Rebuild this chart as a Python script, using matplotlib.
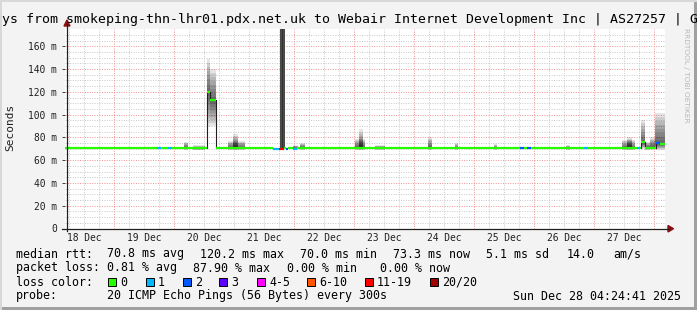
import matplotlib
matplotlib.use('Agg')
import matplotlib.pyplot as plt
from matplotlib.patches import Rectangle, Polygon
from matplotlib.lines import Line2D

W, H = 697, 310
MONO = 'DejaVu Sans Mono'

title = 'ys from smokeping-thn-lhr01.pdx.net.uk to Webair Internet Development Inc | AS27257 | G'
day_labels = ['18 Dec', '19 Dec', '20 Dec', '21 Dec', '22 Dec',
              '23 Dec', '24 Dec', '25 Dec', '26 Dec', '27 Dec']
y_ticks = [0, 20, 40, 60, 80, 100, 120, 140, 160]
y_tick_labels = ['0'] + ['%d m' % v for v in y_ticks[1:]]

# time axis: hours since Dec 18 04:24, 10 days shown
start_hour = 4.4
span = 240
y_max = 175.6

loss_labels = ['0', '1', '2', '3', '4-5', '6-10', '11-19', '20/20']
loss_colors = ['#26ff00', '#00b8ff', '#0059ff', '#5e00ff',
               '#ff00ff', '#ff5500', '#ff0000', '#a10000']

# median rtt (ms) as steps: start hour, value, loss bin
med_start = [0, 36.7, 38.3, 41.1, 42.7, 56.7, 57.9, 60.1, 83.0, 85.6, 87.5,
             88.3, 89.2, 91.2, 92.8, 181.9, 183.5, 184.7, 186.3, 207.5,
             209.1, 228.7, 229.9, 230.3, 231.7, 236.3, 237.9]
med_val = [70.5, 70.3, 70.5, 70.3, 70.5, 120.2, 112.5, 70.5, 70.2, 70.2, 70.5,
           70.2, 70.5, 70.2, 70.5, 70.3, 70.5, 70.3, 70.5, 70.3,
           70.5, 70.3, 70.5, 75.6, 70.5, 74.7, 73.8]
med_loss = [0, 1, 0, 1, 0, 0, 0, 0, 1, 6, 0,
            2, 0, 1, 0, 2, 0, 2, 0, 1,
            0, 1, 0, 0, 0, 2, 0]

# smoke (ping spread): start hour, end hour, low, middle, high (ms)
smoke_t0 = [47.5, 51.1, 56.7, 57.9, 65.1, 67.1, 91.1, 93.9, 115.9, 117.5,
            123.9, 145.1, 155.9, 171.5, 200.3, 222.7, 224.7, 230.3, 231.9,
            233.9, 235.9]
smoke_t1 = [48.9, 55.9, 57.9, 60.1, 71.9, 69.1, 93.1, 95.9, 119.9, 119.1,
            127.9, 146.7, 157.1, 172.7, 201.9, 227.9, 226.7, 231.7, 233.9,
            235.9, 240.0]
smoke_lo = [69, 69, 89, 90, 69, 69, 69, 69, 69, 69,
            69, 69, 69, 69, 69, 69, 69, 70, 69,
            69, 69]
smoke_mid = [71, 70, 120, 112, 71, 72, 70.5, 71, 71, 72,
             70.5, 71, 70.5, 70.5, 70.5, 71, 72, 75, 71,
             72, 74]
smoke_hi = [76, 73, 149, 140, 77, 83, 73, 75, 79, 87,
            73, 80, 75, 74, 73, 78, 80, 95, 76,
            80, 101]

# full-height outage smear on 21 Dec
dark_t0, dark_t1 = 85.9, 87.7


def fx(px):
    return px / W


def fy(py):
    return 1 - py / H


fig = plt.figure(figsize=(W / 100, H / 100), dpi=100)
fig.patch.set_facecolor('#f3f3f3')

ax = fig.add_axes([fx(65.3), fy(228.5), 600 / W, 200 / H])
ax.set_facecolor('white')
ax.set_xlim(0, span)
ax.set_ylim(0, y_max)
for s in ax.spines.values():
    s.set_visible(False)

# grid
dot = (0, (1, 1.5))
for v in range(5, int(y_max), 5):
    if v % 20:
        ax.axhline(v, color='#c8c8c8', lw=0.7, ls=dot, zorder=0)
for v in y_ticks[1:]:
    ax.axhline(v, color='#f09090', lw=0.7, ls=dot, zorder=0)
first_midnight = 24 - start_hour
h = (first_midnight % 6)
while h < span:
    if abs((h - first_midnight) % 24) < 1e-6:
        ax.axvline(h, color='#f09090', lw=0.7, ls=dot, zorder=0)
    else:
        ax.axvline(h, color='#c8c8c8', lw=0.7, ls=dot, zorder=0)
    h += 6

# smoke
n = 8
for t0, t1, lo, mid, hi in zip(smoke_t0, smoke_t1, smoke_lo, smoke_mid, smoke_hi):
    for k in range(1, n + 1):
        b = mid - (mid - lo) * k / n
        t = mid + (hi - mid) * k / n
        ax.add_patch(Rectangle((t0, b), t1 - t0, t - b, facecolor='black',
                               alpha=0.1, lw=0, zorder=1))
ax.add_patch(Rectangle((dark_t0, 70), dark_t1 - dark_t0, y_max, facecolor='#4a4a4a',
                       lw=0, zorder=1))
ax.add_patch(Rectangle((dark_t0 + 0.6, 70), 0.6, y_max, facecolor='#333333',
                       lw=0, zorder=1))

# median line
ends = med_start[1:] + [span]
for i, (t0, t1, v, b) in enumerate(zip(med_start, ends, med_val, med_loss)):
    ax.plot([t0, t1], [v, v], color=loss_colors[b], lw=1.6,
            solid_capstyle='butt', zorder=3)
    if i > 0 and abs(v - med_val[i - 1]) > 2:
        ax.plot([t0, t0], [med_val[i - 1], v], color='#202020', lw=0.8, zorder=2)

# ticks
ax.set_yticks(y_ticks)
ax.set_yticklabels(y_tick_labels, fontfamily=MONO, fontsize=6.9, color='#202020')
ax.set_xticks([first_midnight - 12 + 24 * i for i in range(len(day_labels))])
ax.set_xticklabels(day_labels, fontfamily=MONO, fontsize=6.9, color='#202020')
ax.tick_params(axis='y', length=2, width=0.7, pad=4, color='#404040')
ax.tick_params(axis='x', length=0, pad=3.5)

# axes with arrows
fig.add_artist(Line2D([fx(66.7), fx(66.7)], [fy(231), fy(24)], color='#202020', lw=0.9))
fig.add_artist(Line2D([fx(62), fx(669)], [fy(228.7), fy(228.7)], color='#202020', lw=0.9))
fig.add_artist(Polygon([(fx(67), fy(20)), (fx(64), fy(26)), (fx(70), fy(26))],
                       closed=True, color='#8b1010'))
fig.add_artist(Polygon([(fx(673.5), fy(228.7)), (fx(668), fy(225.5)), (fx(668), fy(232))],
                       closed=True, color='#8b1010'))

# frame
fig.add_artist(Rectangle((0, fy(310)), 1, 3 / H, transform=fig.transFigure, color='#a0a0a0', lw=0))
fig.add_artist(Rectangle((fx(694), 0), 3 / W, 1, transform=fig.transFigure, color='#a0a0a0', lw=0))
fig.add_artist(Rectangle((0, fy(2)), 1, 2 / H, transform=fig.transFigure, color='#d8d8d8', lw=0))
fig.add_artist(Rectangle((0, 0), 2 / W, 1, transform=fig.transFigure, color='#d8d8d8', lw=0))

# texts
fig.text(fx(1.5), fy(19.5), title, fontfamily=MONO, fontsize=9.5, va='center', ha='left')
fig.text(fx(10), fy(127), 'Seconds', fontfamily=MONO, fontsize=8, rotation=90,
         va='center', ha='center', color='#202020')
fig.text(fx(686), fy(28), 'RRDTOOL / TOBI OETIKER', fontfamily='DejaVu Sans', fontsize=5.3,
         rotation=270, va='top', ha='center', color='#b8b8b8')

LS = 8.4
rows = [
    (254, [(16, 'median rtt:'), (107, '70.8 ms avg'), (200, '120.2 ms max'),
           (300, '70.0 ms min'), (393, '73.3 ms now'), (486, '5.1 ms sd'),
           (567, '14.0'), (613, 'am/s')]),
    (268, [(16, 'packet loss:'), (107, '0.81 % avg'), (193, '87.90 % max'),
           (287, '0.00 % min'), (380, '0.00 % now')]),
    (296, [(16, 'probe:'), (107, '20 ICMP Echo Pings (56 Bytes) every 300s'),
           (513, 'Sun Dec 28 04:24:41 2025')]),
]
for y, items in rows:
    for x, s in items:
        fig.text(fx(x), fy(y), s, fontfamily=MONO, fontsize=LS, va='center', ha='left')

fig.text(fx(16), fy(282), 'loss color:', fontfamily=MONO, fontsize=LS, va='center', ha='left')
box_x = [108, 146, 183, 219, 257, 307, 365, 430]
for bx, lab, col in zip(box_x, loss_labels, loss_colors):
    fig.add_artist(Rectangle((fx(bx), fy(286)), 8 / W, 8 / H, transform=fig.transFigure,
                             facecolor=col, edgecolor='black', lw=0.7))
    fig.text(fx(bx + 12), fy(282), lab, fontfamily=MONO, fontsize=LS, va='center', ha='left')

fig.savefig('out.png', dpi=100, facecolor=fig.get_facecolor())
